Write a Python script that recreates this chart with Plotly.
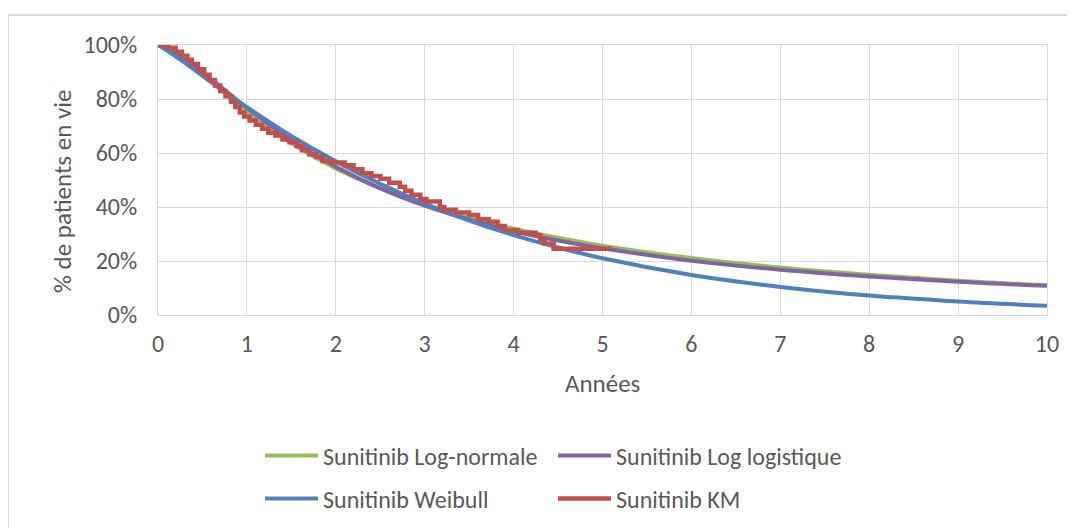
import plotly.graph_objects as go

# ---- data ----
t_fit = [0, 0.25, 0.5, 0.75, 1, 1.5, 2, 2.5, 3, 3.5, 4, 4.5, 5, 6, 7, 8, 9, 10]
lognormal = [1.000, 0.967, 0.896, 0.822, 0.753, 0.636, 0.543, 0.470, 0.410, 0.361,
             0.320, 0.286, 0.257, 0.211, 0.176, 0.149, 0.127, 0.110]
loglogistic = [1.000, 0.960, 0.899, 0.833, 0.767, 0.648, 0.549, 0.469, 0.405, 0.353,
               0.310, 0.276, 0.247, 0.201, 0.168, 0.143, 0.123, 0.108]
weibull = [1.000, 0.946, 0.886, 0.827, 0.770, 0.663, 0.569, 0.486, 0.413, 0.350,
           0.296, 0.250, 0.210, 0.148, 0.104, 0.072, 0.050, 0.034]

t_km = [0, 0.12, 0.2, 0.27, 0.33, 0.38, 0.45, 0.52, 0.58, 0.64, 0.7, 0.76, 0.82, 0.87,
        0.92, 0.97, 1.03, 1.1, 1.17, 1.24, 1.32, 1.4, 1.48, 1.56, 1.62, 1.7, 1.78, 1.85,
        1.95, 2.1, 2.2, 2.3, 2.4, 2.5, 2.6, 2.72, 2.78, 2.85, 2.95, 3.02, 3.17, 3.22,
        3.35, 3.5, 3.6, 3.72, 3.82, 3.9, 4.05, 4.25, 4.3, 4.35, 4.45, 5.1]
km = [1.00, 0.99, 0.975, 0.96, 0.945, 0.93, 0.91, 0.89, 0.87, 0.85, 0.83, 0.81, 0.79, 0.77,
      0.75, 0.735, 0.72, 0.705, 0.69, 0.675, 0.665, 0.65, 0.64, 0.625, 0.61, 0.595, 0.585, 0.57,
      0.565, 0.555, 0.54, 0.525, 0.515, 0.505, 0.49, 0.475, 0.46, 0.445, 0.43, 0.42, 0.40, 0.39,
      0.38, 0.37, 0.355, 0.345, 0.33, 0.315, 0.305, 0.295, 0.28, 0.265, 0.245, 0.245]

x_ticks = list(range(0, 11))
y_ticks = [0, 0.2, 0.4, 0.6, 0.8, 1.0]
y_tick_labels = ["0%", "20%", "40%", "60%", "80%", "100%"]

FONT = "Carlito, Calibri, Lato, sans-serif"
TXT = "#595959"
GRID = "#d9d9d9"
FS = 24

fig = go.Figure()
fig.add_trace(go.Scatter(x=t_fit, y=lognormal, mode="lines", name="Sunitinib Log-normale",
                         line=dict(color="#9BBB59", width=4, shape="spline"), legend="legend"))
fig.add_trace(go.Scatter(x=t_fit, y=loglogistic, mode="lines", name="Sunitinib Log logistique",
                         line=dict(color="#8064A2", width=4, shape="spline"), legend="legend2"))
fig.add_trace(go.Scatter(x=t_fit, y=weibull, mode="lines", name="Sunitinib Weibull",
                         line=dict(color="#4F81BD", width=4, shape="spline"), legend="legend3"))
fig.add_trace(go.Scatter(x=t_km, y=km, mode="lines", name="Sunitinib KM",
                         line=dict(color="#C0504D", width=4.5, shape="hv"), legend="legend4"))

# rendered page coordinates (page has an 8px body offset)
PL, PT, PW, PH = 158, 45, 889, 270
PB = PT + PH


def px(x):
    return (x - PL) / PW


def py(y):
    return (PB - y) / PH


def leg(xp, yp):
    return dict(orientation="h", x=px(xp), y=py(yp), xanchor="left", yanchor="middle",
                itemwidth=53, font=dict(size=FS, color=TXT), bgcolor="rgba(0,0,0,0)")


fig.update_layout(
    width=1075, height=528,
    margin=dict(l=PL - 8, r=1075 - (PL - 8) - PW, t=PT - 8, b=528 - (PT - 8) - PH),
    paper_bgcolor="white", plot_bgcolor="white",
    font=dict(family=FONT, size=FS, color=TXT),
    showlegend=True,
    xaxis=dict(range=[0, 10], tickvals=x_ticks, showgrid=True, gridcolor=GRID, gridwidth=1,
               zeroline=False, showline=True, linecolor=GRID, mirror=True, ticks="",
               ticklabelstandoff=7, tickfont=dict(size=FS, color=TXT)),
    yaxis=dict(range=[0, 1], tickvals=y_ticks, ticktext=y_tick_labels, showgrid=True,
               gridcolor=GRID, gridwidth=1, zeroline=False, showline=True, linecolor=GRID,
               mirror=True, ticks="", ticklabelstandoff=15,
               tickfont=dict(size=FS, color=TXT)),
    legend=leg(260, 456),
    legend2=leg(553, 456),
    legend3=leg(260, 499),
    legend4=leg(553, 499),
    annotations=[
        dict(text="Années", xref="paper", yref="paper", x=px(602), y=py(383),
             xanchor="center", yanchor="middle", showarrow=False,
             font=dict(size=25, color=TXT)),
        dict(text="% de patients en vie", xref="paper", yref="paper", x=px(62), y=py(192),
             xanchor="center", yanchor="middle", showarrow=False, textangle=-90,
             font=dict(size=25, color=TXT)),
    ],
    shapes=[
        dict(type="line", xref="paper", yref="paper", x0=px(8), x1=1.5, y0=py(15), y1=py(15),
             line=dict(color=GRID, width=2)),
        dict(type="line", xref="paper", yref="paper", x0=px(8), x1=px(8), y0=py(15), y1=-1.5,
             line=dict(color=GRID, width=2)),
    ],
)

fig.write_html("out.html")
